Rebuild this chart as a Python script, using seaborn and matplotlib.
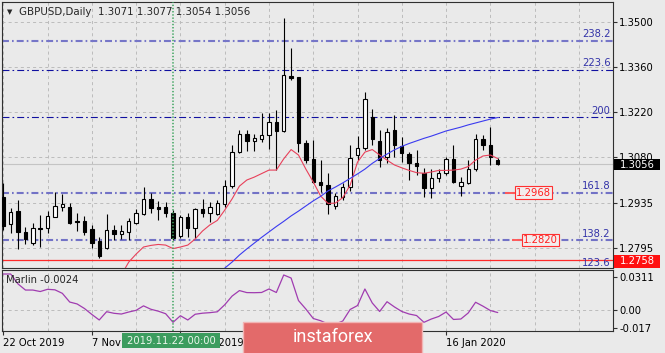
import matplotlib
matplotlib.use("Agg")
import matplotlib.pyplot as plt
import matplotlib.transforms as mtrans
from matplotlib.patches import Rectangle
import numpy as np
import pandas as pd
import seaborn as sns

# ---------------- data ----------------
opens = [1.2955, 1.2869, 1.2910, 1.2846, 1.2812, 1.2857, 1.2857, 1.2893, 1.2923, 1.2924,
         1.2879, 1.2879, 1.2853, 1.2818, 1.2794, 1.2851, 1.2840, 1.2846, 1.2874, 1.2901,
         1.2947, 1.2923, 1.2922, 1.2904, 1.2831, 1.2893, 1.2856, 1.2916, 1.2903, 1.2901,
         1.2931, 1.2989, 1.3095, 1.3151, 1.3130, 1.3135, 1.3147, 1.3189, 1.3161, 1.3333,
         1.3327, 1.3122, 1.3072, 1.3002, 1.2991, 1.2926, 1.2955, 1.2986, 1.3085, 1.3106,
         1.3205, 1.3130, 1.3080, 1.3163, 1.3113, 1.3088, 1.3059, 1.3030, 1.2981, 1.3012,
         1.3028, 1.3072, 1.2988, 1.2998, 1.3041, 1.3134, 1.3116, 1.3071]
highs = [1.2998, 1.2920, 1.2945, 1.2860, 1.2873, 1.2898, 1.2910, 1.2970, 1.2963, 1.2935,
         1.2904, 1.2895, 1.2867, 1.2829, 1.2901, 1.2868, 1.2867, 1.2887, 1.2918, 1.2985,
         1.2965, 1.2940, 1.2937, 1.2913, 1.2898, 1.2904, 1.2920, 1.2948, 1.2939, 1.2945,
         1.3007, 1.3116, 1.3163, 1.3163, 1.3151, 1.3216, 1.3216, 1.3225, 1.3512, 1.3419,
         1.3329, 1.3132, 1.3132, 1.3069, 1.3029, 1.2966, 1.2998, 1.3116, 1.3144, 1.3283,
         1.3229, 1.3163, 1.3169, 1.3210, 1.3142, 1.3095, 1.3101, 1.3044, 1.3041, 1.3040,
         1.3080, 1.3116, 1.3016, 1.3069, 1.3151, 1.3147, 1.3173, 1.3077]
lows = [1.2851, 1.2842, 1.2792, 1.2807, 1.2804, 1.2798, 1.2842, 1.2892, 1.2910, 1.2871,
        1.2848, 1.2835, 1.2795, 1.2764, 1.2792, 1.2820, 1.2823, 1.2820, 1.2871, 1.2899,
        1.2904, 1.2881, 1.2893, 1.2820, 1.2825, 1.2830, 1.2826, 1.2893, 1.2876, 1.2898,
        1.2923, 1.2982, 1.3091, 1.3098, 1.3098, 1.3126, 1.3104, 1.3038, 1.3157, 1.3319,
        1.3094, 1.3060, 1.2998, 1.2970, 1.2901, 1.2917, 1.2945, 1.2973, 1.3069, 1.3101,
        1.3116, 1.3049, 1.3060, 1.3080, 1.3064, 1.3007, 1.3023, 1.2955, 1.2951, 1.3002,
        1.3023, 1.2998, 1.2957, 1.2995, 1.3035, 1.3101, 1.3054, 1.3054]
closes = [1.2864, 1.2908, 1.2846, 1.2823, 1.2856, 1.2854, 1.2895, 1.2926, 1.2932, 1.2874,
          1.2876, 1.2846, 1.2811, 1.2771, 1.2851, 1.2839, 1.2848, 1.2878, 1.2904, 1.2949,
          1.2920, 1.2917, 1.2903, 1.2826, 1.2893, 1.2856, 1.2916, 1.2903, 1.2924, 1.2934,
          1.2988, 1.3095, 1.3151, 1.3130, 1.3137, 1.3147, 1.3189, 1.3161, 1.3335, 1.3325,
          1.3122, 1.3069, 1.3002, 1.2991, 1.2932, 1.2956, 1.2986, 1.3075, 1.3106, 1.3259,
          1.3134, 1.3069, 1.3158, 1.3116, 1.3090, 1.3059, 1.3051, 1.2981, 1.3012, 1.3028,
          1.3072, 1.3002, 1.3002, 1.3041, 1.3134, 1.3116, 1.3079, 1.3056]

# red moving average, bars 16..67
ma_fast_start = 16
ma_fast = [1.2711, 1.2751, 1.2776, 1.2798, 1.2803, 1.2806, 1.2804, 1.2793, 1.2798, 1.2804,
           1.2823, 1.2848, 1.2867, 1.2881, 1.2913, 1.2948, 1.2988, 1.3007, 1.3016, 1.3027,
           1.3038, 1.3038, 1.3073, 1.3102, 1.3085, 1.3041, 1.3001, 1.2957, 1.2934, 1.2935,
           1.2952, 1.2991, 1.3063, 1.3094, 1.3102, 1.3085, 1.3069, 1.3054, 1.3045, 1.3037,
           1.3030, 1.3028, 1.3032, 1.3037, 1.3037, 1.3038, 1.3041, 1.3049, 1.3069, 1.3082,
           1.3085, 1.3074]
# blue moving average, bars 30..67
ma_slow_start = 30
ma_slow = [1.2732, 1.2751, 1.2773, 1.2792, 1.2810, 1.2828, 1.2845, 1.2862, 1.2878, 1.2895,
           1.2910, 1.2926, 1.2942, 1.2956, 1.2973, 1.2985, 1.2998, 1.3012, 1.3026, 1.3041,
           1.3059, 1.3074, 1.3088, 1.3101, 1.3112, 1.3121, 1.3129, 1.3137, 1.3144, 1.3152,
           1.3160, 1.3166, 1.3172, 1.3179, 1.3185, 1.3191, 1.3197, 1.3202]

marlin = [0.0339, 0.0339, 0.0245, 0.0188, 0.0188, 0.0174, 0.0195, 0.0190, 0.0157, 0.0075,
          0.0057, 0.0014, -0.0042, -0.0094, -0.0016, -0.0031, -0.0038, -0.0019, -0.0003, 0.0039,
          0.0007, -0.0011, -0.0035, -0.0116, -0.0054, -0.0094, -0.0040, -0.0030, -0.0025, -0.0017,
          0.0049, 0.0131, 0.0183, 0.0164, 0.0163, 0.0165, 0.0198, 0.0165, 0.0330, 0.0301,
          0.0089, 0.0009, -0.0080, -0.0101, -0.0132, -0.0132, -0.0104, 0.0005, 0.0042, 0.0198,
          0.0066, -0.0014, 0.0078, 0.0029, -0.0014, -0.0038, -0.0052, -0.0116, -0.0085, -0.0061,
          -0.0019, -0.0089, -0.0085, -0.0028, 0.0073, 0.0036, -0.0005, -0.0024]

fib_levels = [1.3442, 1.3351, 1.3204, 1.2968, 1.2820]
fib_labels = ["238.2", "223.6", "200", "161.8", "138.2"]
fib_bottom_label = "123.6"
price_ticks = [1.3500, 1.3360, 1.3220, 1.3080, 1.2935, 1.2795]
marlin_ticks = [0.0311, 0.0, -0.017]
marlin_tick_labels = ["0.0311", "0.00", "-0.017"]
date_tick_bars = [0, 12, 24, 36, 48, 60]
date_tick_labels = ["22 Oct 2019", "7 Nov 2019", "25 Nov 2019", "", "", "16 Jan 2020"]
bid_price = 1.3056
red_level = 1.2758
alert_levels = [1.2968, 1.2820]
cross_bar = 23
cross_label = "2019.11.22 00:00"
header = "GBPUSD,Daily  1.3071 1.3077 1.3054 1.3056"
marlin_label = "Marlin -0.0024"

# ---------------- style ----------------
sns.set_theme(style="white")
plt.rcParams["font.family"] = ["DejaVu Sans"]
plt.rcParams["lines.scale_dashes"] = False
BG = "#eaeaea"
W, H = 665, 353

fig = plt.figure(figsize=(W / 100, H / 100), dpi=100, facecolor=BG)

def fx(px):
    return px / W

def fy(py):
    return 1 - py / H

ax = fig.add_axes([fx(2), fy(268), (613 - 2) / W, (268 - 2) / H])
axm = fig.add_axes([fx(2), fy(331), (613 - 2) / W, (331 - 270) / H])

XL = (-0.176, 82.62)
for a in (ax, axm):
    a.set_facecolor(BG)
    a.set_xlim(*XL)
    for s in a.spines.values():
        s.set_color("#303030")
        s.set_linewidth(0.8)

ax.set_ylim(1.27325, 1.35624)
axm.set_ylim(-0.01978, 0.03768)

grid_kw = dict(color="#bcbcbc", lw=0.7, ls=(0, (2.2, 2.2)), zorder=1)
for b in range(0, 84, 6):
    ax.axvline(b, **grid_kw)
    axm.axvline(b, **grid_kw)
for p in price_ticks:
    ax.axhline(p, **grid_kw)
axm.axhline(0.0, **grid_kw)

# bid line and red level
ax.axhline(bid_price, color="#c4c4c4", lw=0.8, zorder=1.5)
ax.axhline(red_level, color="#ff2a2a", lw=0.9, zorder=2)

# fibonacci levels
dashdot = (0, (5, 2.2, 1.2, 2.2))
fib_styles = [("#7676c8", 1.5), ("#1010a0", 0.8), ("#1010a0", 0.8), ("#7272c6", 1.5), ("#7272c6", 1.5)]
blend = mtrans.blended_transform_factory(ax.transAxes, ax.transData)
for lev, lab, (col, lw) in zip(fib_levels, fib_labels, fib_styles):
    ax.axhline(lev, color=col, lw=lw, ls=dashdot, zorder=2)
    ax.text(0.996, lev + 0.0004, lab, transform=blend, ha="right", va="bottom",
            fontsize=7.2, color="#3333a8", zorder=6)
ax.text(0.996, 0.0, fib_bottom_label, transform=ax.transAxes, ha="right", va="bottom",
        fontsize=7.2, color="#3333a8", zorder=6)

# candles
o = np.array(opens); h = np.array(highs); l = np.array(lows); c = np.array(closes)
idx = np.arange(len(o))
up = c >= o
lo = np.minimum(o, c)
bh = np.maximum(np.abs(c - o), 0.00006)
ax.vlines(idx, l, h, color="black", lw=0.8, zorder=3)
ax.bar(idx[up], bh[up], bottom=lo[up], width=0.46, color="white", edgecolor="black",
       linewidth=0.8, zorder=4)
ax.bar(idx[~up], bh[~up], bottom=lo[~up], width=0.46, color="black", edgecolor="black",
       linewidth=0.8, zorder=4)

# moving averages (seaborn)
df_fast = pd.DataFrame({"bar": np.arange(ma_fast_start, ma_fast_start + len(ma_fast)), "ma": ma_fast})
df_slow = pd.DataFrame({"bar": np.arange(ma_slow_start, ma_slow_start + len(ma_slow)), "ma": ma_slow})
sns.lineplot(data=df_fast, x="bar", y="ma", ax=ax, color="#e8405a", linewidth=0.8, zorder=5)
sns.lineplot(data=df_slow, x="bar", y="ma", ax=ax, color="#3a3af0", linewidth=0.8, zorder=5)

# alert labels
for lev, x0, x1, xc in zip(alert_levels, [68.0, 69.0], [70.0, 71.0], [71.85, 72.75]):
    ax.plot([x0, x1], [lev, lev], color="#ff5a5a", lw=1.4, zorder=6, solid_capstyle="butt")
    ax.text(xc, lev, f"{lev:.4f}", ha="center", va="center", fontsize=7.2, color="#ff2020",
            zorder=7, bbox=dict(boxstyle="square,pad=0.12", fc="#f3eded", ec="#ff3030", lw=0.8))

# crosshair
for a in (ax, axm):
    a.axvline(cross_bar, color="#3aa35c", lw=1.1, ls=(0, (1, 1.3)), zorder=8)

# marlin
df_m = pd.DataFrame({"bar": idx, "marlin": marlin})
sns.lineplot(data=df_m, x="bar", y="marlin", ax=axm, color="#a03cb0", linewidth=0.9, zorder=5)

for a in (ax, axm):
    a.set_xlabel("")
    a.set_ylabel("")

# ticks
ax.set_yticks(price_ticks)
ax.set_yticklabels([f"{p:.4f}" for p in price_ticks])
ax.tick_params(axis="y", left=False, right=True, labelleft=False, labelright=True,
               length=3, width=0.8, color="#303030", labelsize=7.2, pad=1.5, labelcolor="black")
ax.tick_params(axis="x", bottom=False, labelbottom=False)
ax.set_xticks([])

axm.set_yticks(marlin_ticks)
axm.set_yticklabels(marlin_tick_labels)
axm.tick_params(axis="y", left=False, right=True, labelleft=False, labelright=True,
                length=3, width=0.8, color="#303030", labelsize=7.2, pad=1.5, labelcolor="black")
axm.set_xticks(date_tick_bars)
axm.set_xticklabels(date_tick_labels)
axm.tick_params(axis="x", bottom=True, length=3, width=0.8, color="#303030", labelsize=7.2,
                pad=2, labelcolor="black")
for lbl in axm.get_xticklabels():
    lbl.set_ha("left")

fig.text(fx(6), fy(280), marlin_label, fontsize=7.2, va="center", ha="left", zorder=10)

# header
fig.text(fx(7), fy(12), "\u25bc", fontsize=5, va="center", ha="left")
fig.text(fx(19), fy(12), header, fontsize=7.4, va="center", ha="left")

# right price boxes
def box(x0, y0, x1, y1, fc, ec=None, lw=0.0, z=20):
    r = Rectangle((fx(x0), fy(y1)), fx(x1) - fx(x0), fy(y0) - fy(y1), transform=fig.transFigure,
                  facecolor=fc, edgecolor=ec if ec else fc, linewidth=lw, zorder=z)
    fig.add_artist(r)

box(614, 159, 660, 170, "black")
fig.text(fx(637), fy(164.5), f"{bid_price:.4f}", color="white", fontsize=7.2, ha="center", va="center", zorder=21)
box(614, 255, 660, 268, "#ff1010")
fig.text(fx(637), fy(261.5), f"{red_level:.4f}", color="white", fontsize=7.2, ha="center", va="center", zorder=21)

# crosshair date label
box(122, 333, 220, 348, "#3c9c5e")
fig.text(fx(171), fy(340.5), cross_label, color="#eaf6ea", fontsize=7.2, ha="center", va="center", zorder=21)

# watermark logo
box(243, 322, 422, 356, "#e36a6a", ec="#f2b4b4", lw=1.0)
fig.text(fx(333), fy(337), "instaforex", color="white", fontsize=13, family=["Roboto", "DejaVu Sans"],
         ha="center", va="center", zorder=21)

fig.savefig("out.png", dpi=100, facecolor=BG)
